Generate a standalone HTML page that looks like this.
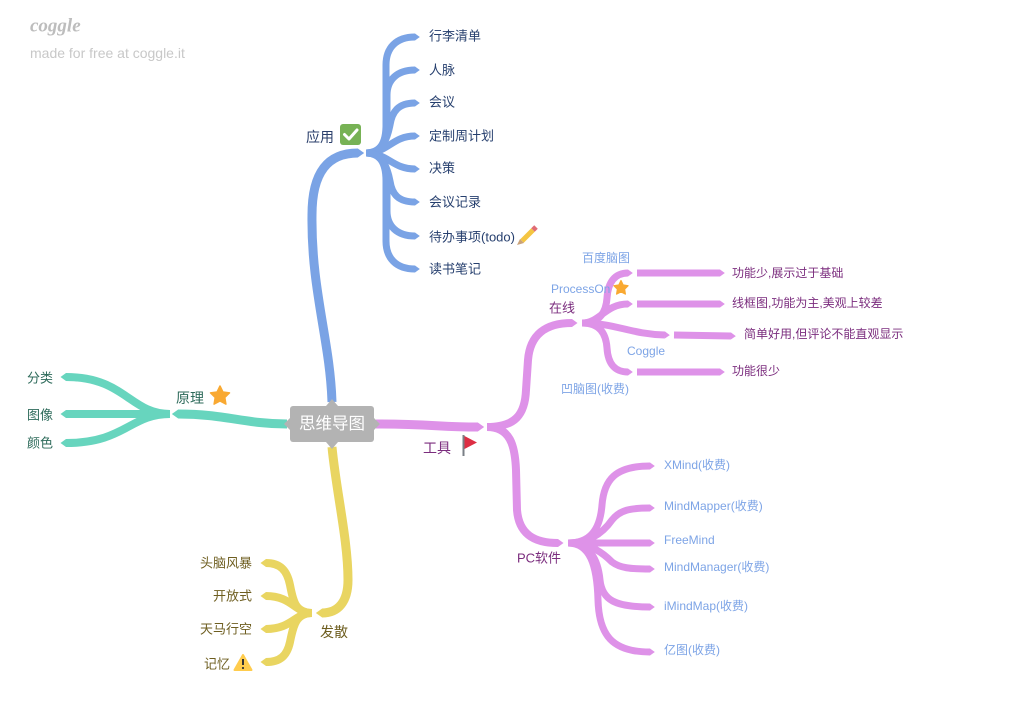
<!DOCTYPE html>
<html><head><meta charset="utf-8">
<style>
html,body{margin:0;padding:0;background:#fff;}
body{width:1030px;height:706px;position:relative;overflow:hidden;}
svg{position:absolute;left:0;top:0;}
text{font-family:"Liberation Sans","Noto Sans CJK SC",sans-serif;dominant-baseline:central;}
</style></head><body>
<svg width="1030" height="706" viewBox="0 0 1030 706">
<defs>
<marker id="mb" viewBox="0 -0.5 0.7 1" markerUnits="strokeWidth" markerWidth="0.7" markerHeight="1" refX="0.01" refY="0" orient="auto"><path d="M0,-0.5 L0.7,0 L0,0.5Z" fill="#7aa3e5"/></marker>
<marker id="mt" viewBox="0 -0.5 0.7 1" markerUnits="strokeWidth" markerWidth="0.7" markerHeight="1" refX="0.01" refY="0" orient="auto"><path d="M0,-0.5 L0.7,0 L0,0.5Z" fill="#67d5be"/></marker>
<marker id="mp" viewBox="0 -0.5 0.7 1" markerUnits="strokeWidth" markerWidth="0.7" markerHeight="1" refX="0.01" refY="0" orient="auto"><path d="M0,-0.5 L0.7,0 L0,0.5Z" fill="#de92e8"/></marker>
<marker id="my" viewBox="0 -0.5 0.7 1" markerUnits="strokeWidth" markerWidth="0.7" markerHeight="1" refX="0.01" refY="0" orient="auto"><path d="M0,-0.5 L0.7,0 L0,0.5Z" fill="#e9d561"/></marker>
</defs>

<!-- logo -->
<text x="30" y="26" font-style="italic" font-weight="bold" font-size="19" fill="#bdbdbd" style="font-family:'Liberation Serif',serif">coggle</text>
<text x="30" y="53" font-size="14" fill="#c8c8c8">made for free at coggle.it</text>

<!-- BLUE -->
<g fill="none" stroke="#7aa3e5" stroke-linecap="butt">
<path d="M332,402 C330,340 311,290 312,215 C312,172 328,153 358,153" stroke-width="9" marker-end="url(#mb)"/>
<g stroke-width="7" marker-end="url(#mb)">
<path d="M366,153 C382,153 386,140 386,125 L386,65 C386,48 396,37 415,37"/>
<path d="M366,153 C382,153 387,140 387,125 L387,95 C387,80 397,70 415,70"/>
<path d="M366,153 C384,153 388,135 390,125 C392,112 398,103 415,103"/>
<path d="M366,153 C388,153 392,136 415,136"/>
<path d="M366,153 C388,153 392,169 415,169"/>
<path d="M366,153 C384,153 388,171 390,181 C392,194 398,202 415,202"/>
<path d="M366,153 C382,153 387,166 387,181 L387,211 C387,226 397,236 415,236"/>
<path d="M366,153 C382,153 386,166 386,181 L386,241 C386,258 396,269 415,269"/>
</g>
</g>

<!-- TEAL -->
<g fill="none" stroke="#67d5be">
<path d="M287,424 C245,424 225,414 178,414" stroke-width="9" marker-end="url(#mt)"/>
<g stroke-width="8" marker-end="url(#mt)">
<path d="M170,414 C130,414 125,377 66,377"/>
<path d="M170,414 L66,414"/>
<path d="M170,414 C130,414 125,443 66,443"/>
</g>
</g>

<!-- PINK -->
<g fill="none" stroke="#de92e8">
<path d="M376,424 C430,424 440,427 478,427" stroke-width="9" marker-end="url(#mp)"/>
<path d="M487,427 C515,427 525,415 526,390 L528,360 C530,335 545,323 572,323" stroke-width="8" marker-end="url(#mp)"/>
<path d="M487,427 C510,427 515,445 516,470 L517,510 C519,535 535,543 558,543" stroke-width="8" marker-end="url(#mp)"/>
<g stroke-width="7" marker-end="url(#mp)">
<path d="M582,323 C600,323 606,312 607,298 C608,282 615,273 628,273"/>
<path d="M582,323 C600,323 605,304 628,304"/>
<path d="M582,323 C615,323 630,334 665,335"/>
<path d="M582,323 C600,323 606,334 607,348 C608,364 615,372 628,372"/>
<path d="M637,273 L720,273"/>
<path d="M637,304 L720,304"/>
<path d="M674,335 L731,336"/>
<path d="M637,372 L720,372"/>
<path d="M568,543 C590,543 600,530 602,505 C604,480 615,466 650,466"/>
<path d="M568,543 C592,543 605,530 612,520 C620,510 630,508 650,508"/>
<path d="M568,543 L650,543"/>
<path d="M568,543 C592,543 605,555 612,562 C620,568 630,569 650,569"/>
<path d="M568,543 C590,543 598,560 600,580 C602,600 615,607 650,607"/>
<path d="M568,543 C590,543 597,565 598,600 C599,635 612,652 650,652"/>
</g>
</g>

<!-- YELLOW -->
<g fill="none" stroke="#e9d561">
<path d="M332,447 C336,490 348,540 348,580 C348,602 338,613 322,613" stroke-width="9" marker-end="url(#my)"/>
<g stroke-width="8" marker-end="url(#my)">
<path d="M312,613 C295,613 293,600 290,585 C287,570 280,563 266,563"/>
<path d="M312,613 C295,613 292,596 266,596"/>
<path d="M312,613 C295,613 292,629 266,629"/>
<path d="M312,613 C295,613 293,628 290,642 C287,656 280,662 266,662"/>
</g>
</g>

<!-- center node -->
<rect x="290" y="406" width="84" height="36" rx="3" fill="#b3b3b3"/>
<polygon points="326,406 332,399 338,406" fill="#b3b3b3"/>
<polygon points="326,442 332,449 338,442" fill="#b3b3b3"/>
<polygon points="290,418 284,424 290,430" fill="#b3b3b3"/>
<polygon points="374,418 380,424 374,430" fill="#b3b3b3"/>
<text x="332" y="424" font-size="16.5" fill="#ffffff" text-anchor="middle">思维导图</text>

<!-- blue labels -->
<text x="306" y="137" font-size="14" fill="#2b3f6b">应用</text>
<rect x="340" y="124" width="21" height="21" rx="3" fill="#77b255"/>
<path d="M344.5,134.5 L349,139 L357,130" fill="none" stroke="#fff" stroke-width="3" stroke-linecap="round" stroke-linejoin="round"/>
<g font-size="13" fill="#263f6e">
<text x="429" y="36">行李清单</text>
<text x="429" y="70">人脉</text>
<text x="429" y="102">会议</text>
<text x="429" y="136">定制周计划</text>
<text x="429" y="168">决策</text>
<text x="429" y="202">会议记录</text>
<text x="429" y="237">待办事项(todo)</text>
<text x="429" y="269">读书笔记</text>
</g>
<!-- pencil -->
<line x1="533" y1="230" x2="522" y2="241" stroke="#f4c542" stroke-width="5"/>
<line x1="536" y1="227" x2="533" y2="230" stroke="#e06c75" stroke-width="5"/>
<polygon points="520,239 524,243 517,245" fill="#c9a27a"/>

<!-- teal labels -->
<g font-size="13" fill="#2d6a5a" text-anchor="end">
<text x="53" y="378">分类</text>
<text x="53" y="415">图像</text>
<text x="53" y="443">颜色</text>
</g>
<text x="176" y="398" font-size="14" fill="#2d6a5a">原理</text>
<polygon points="220,386 222.9,392 229.5,392.9 224.8,397.5 225.9,404.1 220,401 214.1,404.1 215.2,397.5 210.5,392.9 217.1,392" fill="#f9a932" stroke="#f9a932" stroke-width="1.5" stroke-linejoin="round"/>

<!-- pink labels -->
<text x="423" y="448" font-size="14" fill="#7b2d7e">工具</text>
<line x1="463.5" y1="435" x2="463.5" y2="456" stroke="#7a7f86" stroke-width="2"/>
<polygon points="464.5,436 477,442.5 464.5,449" fill="#dd2e44"/>
<text x="549" y="308" font-size="13" fill="#7b2d7e">在线</text>
<text x="517" y="558" font-size="13" fill="#7b2d7e">PC软件</text>
<g font-size="12" fill="#7da4e6">
<text x="582" y="258">百度脑图</text>
<text x="551" y="289">ProcessOn</text>
<text x="627" y="351">Coggle</text>
<text x="561" y="389">凹脑图(收费)</text>
<text x="664" y="465">XMind(收费)</text>
<text x="664" y="506">MindMapper(收费)</text>
<text x="664" y="540">FreeMind</text>
<text x="664" y="567">MindManager(收费)</text>
<text x="664" y="606">iMindMap(收费)</text>
<text x="664" y="650">亿图(收费)</text>
</g>
<polygon points="621,280.5 623.2,285 628.1,285.7 624.6,289.2 625.4,294.1 621,291.8 616.6,294.1 617.4,289.2 613.9,285.7 618.8,285" fill="#f9a932" stroke="#f9a932" stroke-width="1.2" stroke-linejoin="round"/>
<g font-size="12" fill="#7b2d7e">
<text x="732" y="273">功能少,展示过于基础</text>
<text x="732" y="303">线框图,功能为主,美观上较差</text>
<text x="744" y="334">简单好用,但评论不能直观显示</text>
<text x="732" y="371">功能很少</text>
</g>

<!-- yellow labels -->
<g font-size="13" fill="#6e5e20" text-anchor="end">
<text x="252" y="563">头脑风暴</text>
<text x="252" y="596">开放式</text>
<text x="252" y="629">天马行空</text>
<text x="230" y="664">记忆</text>
</g>
<text x="320" y="632" font-size="14" fill="#6e5e20">发散</text>
<path d="M243,655 L251.5,670 L234.5,670 Z" fill="#ffcc4d" stroke="#ffcc4d" stroke-width="2" stroke-linejoin="round"/>
<line x1="243" y1="659" x2="243" y2="665" stroke="#333" stroke-width="2"/>
<circle cx="243" cy="668" r="1.1" fill="#333"/>
</svg>
</body></html>
